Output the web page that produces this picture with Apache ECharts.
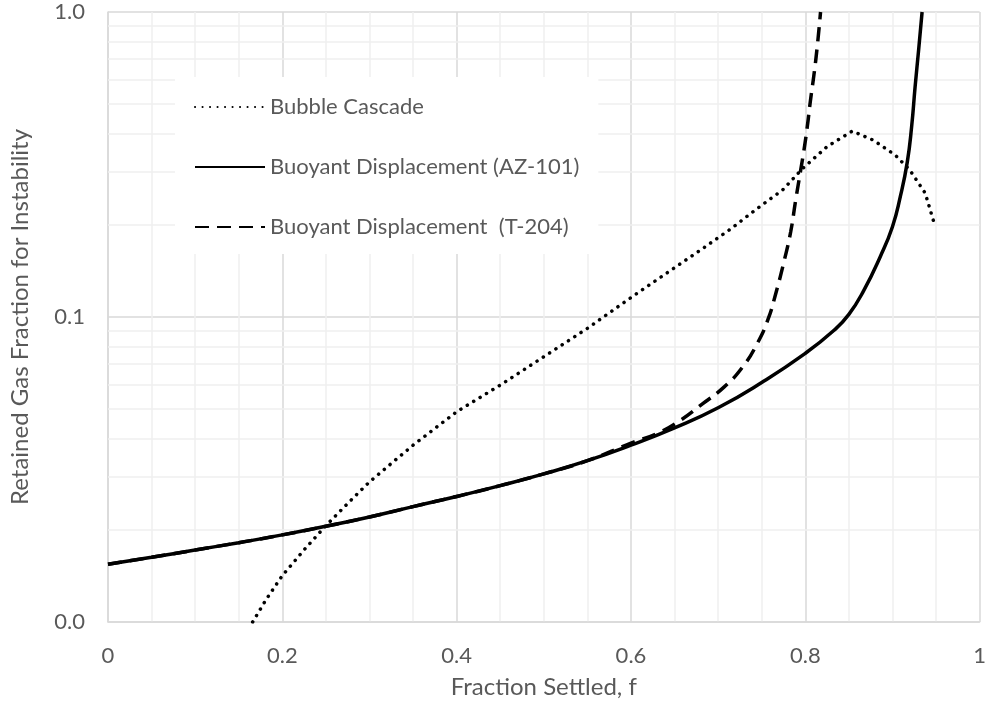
<!DOCTYPE html>
<html>
<head>
<meta charset="utf-8">
<script src="https://cdn.jsdelivr.net/npm/echarts@6/dist/echarts.min.js"></script>
<style>
  html, body { margin: 0; padding: 0; background: #ffffff; }
  #chart { width: 989px; height: 710px; }
</style>
</head>
<body>
<div id="chart"></div>
<script>
// Fraction settled (f) and retained gas fraction for each instability model
const seriesNames = [
  'Bubble Cascade',
  'Buoyant Displacement (AZ-101)',
  'Buoyant Displacement  (T-204)'
];

const bubbleF = [0.166, 0.181, 0.2, 0.227, 0.25, 0.277, 0.3, 0.325, 0.35, 0.4, 0.45, 0.5, 0.55, 0.604,
  0.684, 0.715, 0.745, 0.774, 0.797, 0.825, 0.854, 0.878, 0.903, 0.92, 0.9375, 0.949];
const bubbleV = [0.01, 0.0118, 0.0142, 0.0175, 0.0207, 0.0248, 0.0288, 0.0331, 0.038, 0.0489, 0.0598, 0.0741, 0.0918, 0.118,
  0.169, 0.195, 0.227, 0.261, 0.307, 0.362, 0.407, 0.380, 0.340, 0.303, 0.255, 0.198];

const azF = [0, 0.05, 0.1, 0.15, 0.2, 0.25, 0.3, 0.35, 0.4, 0.45, 0.5, 0.55, 0.6, 0.65, 0.7, 0.75, 0.8,
  0.833, 0.85, 0.867, 0.886, 0.9, 0.909, 0.917, 0.922, 0.926, 0.93, 0.934];
const azV = [0.01546, 0.0163, 0.01722, 0.0182, 0.0193, 0.0206, 0.0221, 0.0239, 0.0258, 0.028, 0.0306, 0.0338, 0.038, 0.0433, 0.0504, 0.061, 0.076,
  0.0905, 0.102, 0.122, 0.1577, 0.1977, 0.248, 0.322, 0.421, 0.569, 0.75, 1.0];

const t204F = [0, 0.05, 0.1, 0.15, 0.2, 0.25, 0.3, 0.35, 0.4, 0.45, 0.5, 0.55, 0.6, 0.63, 0.656, 0.682, 0.707,
  0.728, 0.745, 0.757, 0.766, 0.776, 0.7832, 0.789, 0.7947, 0.7985, 0.8023, 0.806, 0.8099, 0.8137, 0.8175];
const t204V = [0.01546, 0.0163, 0.01722, 0.0182, 0.0193, 0.0206, 0.0221, 0.0239, 0.0258, 0.028, 0.0306, 0.0338, 0.0386, 0.0415, 0.0457, 0.0519, 0.059,
  0.0685, 0.082, 0.0978, 0.119, 0.1538, 0.19, 0.242, 0.303, 0.353, 0.421, 0.515, 0.622, 0.77, 1.0];

// Log-scale minor grid lines between the decades
const minorGridValues = [0.02, 0.03, 0.04, 0.05, 0.06, 0.07, 0.08, 0.09,
  0.2, 0.3, 0.4, 0.5, 0.6, 0.7, 0.8, 0.9];

const xTitle = 'Fraction Settled, f';
const yTitle = 'Retained Gas Fraction for Instability';

const zip = (xs, ys) => xs.map((x, i) => [x, ys[i]]);

const FONT = 'Lato, "Open Sans", sans-serif';
const TEXT = '#595959';
const MAJOR = '#d9d9d9';
const MINOR = '#efefef';

const chart = echarts.init(document.getElementById('chart'), null, { renderer: 'canvas' });

chart.setOption({
  animation: false,
  backgroundColor: '#ffffff',
  textStyle: { fontFamily: FONT },
  grid: { left: 108, right: 6, top: 12, bottom: 88, containLabel: false },
  legend: {
    data: seriesNames,
    orient: 'vertical',
    left: 175,
    top: 77,
    padding: [19, 19, 16, 19],
    itemGap: 38,
    itemWidth: 70,
    itemHeight: 24,
    backgroundColor: '#ffffff',
    selectedMode: false,
    itemStyle: { opacity: 0, color: 'rgba(0,0,0,0)', borderWidth: 0 },
    textStyle: { color: TEXT, fontSize: 22, fontFamily: FONT }
  },
  xAxis: {
    type: 'value',
    min: 0,
    max: 1,
    interval: 0.2,
    name: xTitle,
    nameLocation: 'middle',
    nameGap: 53,
    nameTextStyle: { color: TEXT, fontSize: 24, fontFamily: FONT },
    axisLine: { show: true, lineStyle: { color: MAJOR, width: 1.5 } },
    axisTick: { show: false },
    axisLabel: { color: TEXT, fontSize: 22, fontFamily: FONT, margin: 23,
      formatter: v => (v === 0 || v === 1) ? String(v) : v.toFixed(1) },
    splitLine: { show: true, lineStyle: { color: MAJOR, width: 1.5 } },
    minorTick: { show: false, splitNumber: 4 },
    minorSplitLine: { show: true, lineStyle: { color: MINOR, width: 1.5 } }
  },
  yAxis: {
    type: 'log',
    logBase: 10,
    min: 0.01,
    max: 1,
    name: yTitle,
    nameLocation: 'middle',
    nameGap: 76,
    nameTextStyle: { color: TEXT, fontSize: 24, fontFamily: FONT },
    axisLine: { show: true, lineStyle: { color: MAJOR, width: 1.5 } },
    axisTick: { show: false },
    axisLabel: { color: TEXT, fontSize: 22, fontFamily: FONT, margin: 23,
      formatter: v => v.toFixed(1) },
    splitLine: { show: true, lineStyle: { color: MAJOR, width: 1.5 } }
  },
  series: [
    {
      name: 'minor-grid',
      type: 'line',
      data: [],
      silent: true,
      markLine: {
        z: 1,
        silent: true,
        symbol: ['none', 'none'],
        label: { show: false },
        lineStyle: { color: MINOR, width: 1.5, type: 'solid' },
        emphasis: { disabled: true },
        data: minorGridValues.map(v => ({ yAxis: v }))
      }
    },
    {
      name: seriesNames[0],
      type: 'line',
      data: zip(bubbleF, bubbleV),
      symbol: 'none',
      smooth: false,
      lineStyle: { color: '#000000', width: 3.5, type: [0.1, 7.4], cap: 'round', join: 'round' },
      itemStyle: { color: '#000000' },
      z: 3
    },
    {
      name: seriesNames[1],
      type: 'line',
      data: zip(azF, azV),
      symbol: 'none',
      smooth: 0.5,
      lineStyle: { color: '#000000', width: 3.5, type: 'solid' },
      itemStyle: { color: '#000000' },
      z: 3
    },
    {
      name: seriesNames[2],
      type: 'line',
      data: zip(t204F, t204V),
      symbol: 'none',
      smooth: 0.5,
      lineStyle: { color: '#000000', width: 3.5, type: [14, 8] },
      itemStyle: { color: '#000000' },
      z: 3
    }
  ]
});
</script>
</body>
</html>
